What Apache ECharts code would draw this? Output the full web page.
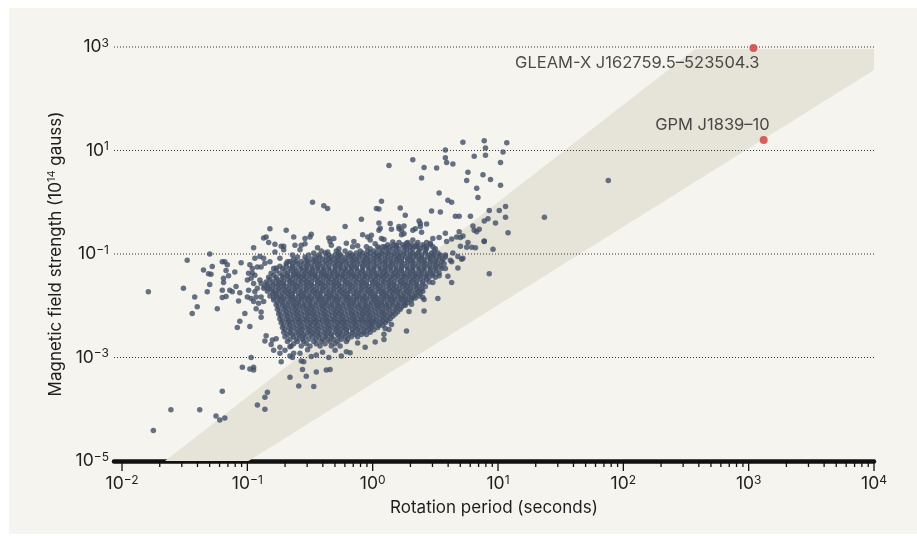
<!DOCTYPE html>
<html lang="en">
<head>
<meta charset="UTF-8">
<title>Magnetic field strength vs rotation period</title>
<script src="https://cdn.jsdelivr.net/npm/echarts@6.0.0/dist/echarts.min.js"></script>
<style>
  html, body { margin: 0; padding: 0; width: 100%; height: 100%; background: #fff; overflow: hidden; }
  #panel { position: absolute; left: 9px; top: 8px; right: 0; bottom: 2px; background: #f5f4ee; }
  #chart { position: absolute; left: 0; top: 0; width: 917px; height: 536px; }
</style>
</head>
<body>
<div id="panel"></div>
<div id="chart"></div>
<script>
// values, as [log10 period (s), log10 field (1e14 G)]
var scatteredLog = [
  // far left and bottom
  [-1.79,-1.73],[-1.48,-1.12],[-1.51,-1.66],[-1.42,-1.83],[-1.40,-2.02],[-1.44,-2.15],
  [-1.30,-1.00],[-1.35,-1.31],[-1.28,-1.24],[-1.31,-1.38],[-1.29,-1.39],[-1.30,-1.59],[-1.32,-1.73],[-1.24,-2.06],
  [-1.20,-1.15],[-1.18,-1.15],[-1.16,-1.21],[-1.17,-1.32],[-1.19,-1.47],[-1.19,-1.55],[-1.20,-1.70],[-1.20,-1.84],[-1.17,-1.82],
  [-1.15,-1.42],[-1.14,-1.70],[-1.12,-1.73],[-1.10,-1.35],[-1.09,-1.63],[-1.07,-1.91],[-1.05,-1.17],[-1.06,-1.75],
  [-1.02,-2.15],[-1.06,-2.30],[-1.08,-2.42],[-0.98,-2.40],[-0.95,-0.88],[-0.85,-2.58],[-0.86,-2.68],
  [-0.97,-3.00],[-1.04,-3.19],[-0.98,-3.22],[-0.95,-3.19],[-0.95,-3.24],[-1.20,-3.65],
  [-1.61,-4.01],[-1.38,-4.01],[-1.25,-4.13],[-1.22,-4.21],[-1.18,-4.17],[-1.75,-4.41],
  [-0.92,-3.92],[-0.86,-3.77],[-0.84,-3.67],[-0.86,-4.00],
  // left lobe of the cloud
  [-0.94,-1.08],[-0.90,-1.05],[-0.87,-1.08],[-0.85,-0.67],[-0.86,-1.18],[-0.98,-1.21],[-0.96,-1.28],[-0.92,-1.25],[-0.89,-1.25],
  [-0.99,-1.37],[-0.96,-1.37],[-0.94,-1.41],[-1.00,-1.50],[-0.97,-1.47],[-0.95,-1.57],[-0.90,-1.50],[-0.89,-1.57],
  [-0.99,-1.70],[-0.94,-1.73],[-0.92,-1.66],[-0.87,-1.66],[-1.00,-1.83],[-0.97,-1.86],[-0.93,-1.83],[-0.89,-1.83],
  [-0.95,-1.92],[-0.91,-1.95],[-0.87,-1.92],[-0.93,-2.06],[-0.89,-2.12],[-0.89,-2.22],
  // under the cloud
  [-0.80,-2.66],[-0.77,-2.64],[-0.74,-2.80],[-0.66,-3.38],[-0.59,-3.55],[-0.56,-3.23],[-0.53,-3.36],[-0.47,-3.56],
  [-0.45,-3.28],[-0.37,-3.24],[-0.34,-3.23],[-0.66,-2.97],[-0.57,-3.07],[-0.49,-2.98],[-0.45,-2.95],[-0.35,-3.00],
  [-0.25,-2.97],[-0.21,-2.89],[-0.18,-2.91],[0.09,-2.65],[0.13,-2.46],[0.15,-2.36],[0.27,-2.49],[0.41,-2.10],
  [0.52,-1.86],[0.63,-1.55],[0.40,-1.84],[-0.81,-2.75],[-0.79,-2.86],[-0.74,-2.92],[-0.70,-2.86],[-0.66,-2.79],
  [-0.73,-3.08],[-0.63,-2.92],[-0.64,-3.00],[-0.58,-2.92],[-0.55,-3.08],[0.10,-2.44],[0.09,-2.55],
  [-0.12,-2.72],[-0.06,-2.80],[0.02,-2.70],[-0.30,-2.86],[-0.40,-2.90],[-0.52,-2.85],
  // right of the cloud
  [0.93,-1.38],[0.48,-1.55],[0.53,-1.42],[0.58,-1.28],[0.29,-2.11],[0.31,-1.97],[0.26,-1.99],[0.41,-1.88],
  [0.96,-0.91],[0.89,-0.76],[0.82,-0.88],[0.79,-0.87],[0.75,-0.87],[0.71,-1.10],[0.76,-0.78],[0.70,-0.85],
  [0.58,-1.02],[0.63,-1.15],[0.68,-1.27],[0.72,-1.08],[0.60,-1.43],[0.62,-1.12],[0.68,-1.05],[0.64,-0.98],
  // upper right
  [0.72,1.16],[0.89,1.19],[1.07,1.15],[0.90,1.05],[1.04,0.97],[0.90,0.91],[0.81,0.89],[0.58,1.01],[0.58,0.86],[0.59,0.77],[0.64,0.74],
  [0.32,0.82],[0.41,0.67],[0.51,0.66],[1.02,0.77],[0.76,0.58],[0.88,0.53],[0.39,0.47],[0.75,0.42],[0.94,0.44],[1.02,0.33],[0.83,0.27],
  [0.53,0.18],[0.84,0.09],[0.60,0.04],[0.63,0.00],[0.47,-0.17],[0.54,-0.19],[0.93,-0.16],[1.01,-0.16],[1.06,-0.08],
  [0.26,-0.25],[0.22,-0.11],[0.66,-0.27],[0.69,-0.27],[0.78,-0.27],[1.06,-0.29],[0.92,-0.32],[0.89,-0.36],[0.98,-0.40],
  [0.43,-0.42],[0.37,-0.36],[0.38,-0.41],[0.38,-0.47],[0.80,-0.46],[1.08,-0.59],[0.69,-0.57],[0.81,-0.54],[0.85,-0.52],[0.83,-0.57],
  [0.25,-0.46],[0.23,-0.54],[0.32,-0.54],[0.34,-0.51],[0.39,-0.58],[0.58,-0.60],[0.48,-0.70],[0.53,-0.68],[0.59,-0.76],
  [0.63,-0.71],[0.67,-0.67],[0.72,-0.65],[0.70,-0.68],[0.89,-0.75],
  [0.27,-0.79],[0.32,-0.73],[0.36,-0.86],[0.43,-0.86],[0.46,-0.79],[1.37,-0.29],[1.88,0.42],
  // above the cloud
  [0.13,0.71],[-0.48,0.00],[-0.39,-0.07],[-0.36,-0.12],[0.07,0.02],[0.03,-0.12],[0.05,-0.13],[-0.09,-0.33],[0.05,-0.40],[0.14,-0.41],
  [-0.82,-0.51],[-0.69,-0.54],[-0.22,-0.47],[0.06,-0.50],[0.05,-0.54],[0.15,-0.52],[0.21,-0.47],[0.21,-0.51],[0.23,-0.63],[0.25,-0.61],
  [-0.63,-0.67],[-0.50,-0.67],[-0.49,-0.62],[-0.54,-0.70],[-0.87,-0.69],[-0.83,-0.78],[-0.78,-0.81],[-0.73,-0.85],[-0.71,-0.85],
  [-0.62,-0.83],[-0.57,-0.83],[-0.54,-0.80],[-0.35,-0.69],[-0.34,-0.76],[-0.31,-0.70],[-0.33,-0.83],[-0.21,-0.79],[-0.15,-0.76],
  [-0.08,-0.63],[-0.04,-0.67],[-0.01,-0.64],[-0.02,-0.73],[0.07,-0.70],[0.09,-0.72],[0.16,-0.77],[0.19,-0.84],[0.27,-0.85],
  [-0.78,-0.96],[-0.71,-0.92],[-0.64,-1.02],[-0.58,-0.92],[-0.74,-1.08],[-0.82,-1.15],[-0.68,-1.15],[-0.77,-1.27],
  [-0.44,-0.88],[-0.36,-0.96],[-0.27,-0.90],[-0.12,-0.84],[0.02,-0.80],[0.10,-0.86]
];

// the dense core, row by row: [log10 field, [log10 periods]]
var coreRows = [
  [-0.78, [0.21,0.28,0.36,0.43]],
  [-0.82, [0.12,0.17,0.24,0.31,0.35,0.40,0.46]],
  [-0.86, [-0.16,-0.05,0.04,0.08,0.14,0.19,0.25,0.30,0.34,0.41,0.48]],
  [-0.90, [-0.02,0.05,0.11,0.16,0.21,0.27,0.32,0.38,0.43,0.50]],
  [-0.94, [-0.41,-0.29,-0.22,-0.10,-0.04,0.01,0.08,0.13,0.19,0.25,0.30,0.37,0.42,0.49]],
  [-0.98, [-0.47,-0.38,-0.27,-0.18,-0.13,-0.08,-0.02,0.03,0.07,0.12,0.17,0.22,0.27,0.32,0.36,0.42,0.47,0.52]],
  [-1.02, [-0.51,-0.43,-0.35,-0.30,-0.26,-0.20,-0.16,-0.10,-0.05,0.01,0.05,0.10,0.15,0.20,0.24,0.30,0.34,0.39,0.45,0.49,0.54]],
  [-1.06, [-0.60,-0.54,-0.46,-0.42,-0.37,-0.33,-0.28,-0.24,-0.19,-0.15,-0.11,-0.06,-0.02,0.03,0.07,0.12,0.17,0.21,0.26,0.30,0.35,0.39,0.44,0.48,0.53,0.58]],
  [-1.10, [-0.63,-0.53,-0.49,-0.45,-0.40,-0.35,-0.31,-0.27,-0.22,-0.17,-0.13,-0.08,-0.04,0.01,0.05,0.10,0.14,0.19,0.23,0.28,0.32,0.37,0.41,0.46,0.51,0.56]],
  [-1.145, [-0.66,-0.61,-0.57,-0.52,-0.47,-0.43,-0.38,-0.34,-0.29,-0.25,-0.21,-0.16,-0.12,-0.07,-0.03,0.01,0.06,0.10,0.15,0.19,0.23,0.28,0.32,0.37,0.41,0.46,0.50,0.55]],
  [-1.19, [-0.69,-0.64,-0.60,-0.55,-0.51,-0.46,-0.42,-0.37,-0.32,-0.28,-0.24,-0.19,-0.15,-0.10,-0.06,-0.02,0.03,0.08,0.12,0.16,0.21,0.25,0.30,0.34,0.39,0.43,0.48,0.52,0.57]],
  [-1.235, [-0.74,-0.69,-0.64,-0.58,-0.53,-0.49,-0.44,-0.40,-0.35,-0.30,-0.26,-0.21,-0.17,-0.13,-0.08,-0.04,0.01,0.05,0.10,0.14,0.18,0.23,0.27,0.32,0.36,0.41,0.45,0.50,0.54]],
  [-1.28, [-0.79,-0.72,-0.66,-0.62,-0.57,-0.53,-0.48,-0.44,-0.39,-0.35,-0.30,-0.26,-0.22,-0.17,-0.13,-0.08,-0.03,0.01,0.06,0.10,0.14,0.19,0.23,0.28,0.32,0.37,0.41,0.46,0.50,0.55]],
  [-1.325, [-0.77,-0.70,-0.65,-0.61,-0.56,-0.52,-0.48,-0.43,-0.39,-0.34,-0.30,-0.25,-0.21,-0.17,-0.12,-0.08,-0.03,0.01,0.06,0.10,0.15,0.19,0.23,0.28,0.32,0.37,0.41,0.46,0.51]],
  [-1.37, [-0.81,-0.74,-0.68,-0.63,-0.59,-0.54,-0.50,-0.46,-0.41,-0.37,-0.32,-0.28,-0.23,-0.19,-0.15,-0.10,-0.06,-0.01,0.03,0.08,0.12,0.17,0.21,0.25,0.30,0.34,0.39,0.44,0.48,0.53]],
  [-1.41, [-0.79,-0.72,-0.68,-0.63,-0.59,-0.55,-0.50,-0.46,-0.41,-0.37,-0.33,-0.28,-0.24,-0.19,-0.15,-0.11,-0.06,-0.02,0.03,0.07,0.11,0.16,0.20,0.25,0.29,0.34,0.38,0.43,0.48]],
  [-1.45, [-0.83,-0.77,-0.71,-0.66,-0.61,-0.57,-0.53,-0.48,-0.44,-0.39,-0.35,-0.30,-0.26,-0.22,-0.17,-0.13,-0.08,-0.04,0.01,0.05,0.09,0.14,0.18,0.23,0.27,0.32,0.36,0.41,0.45,0.50]],
  [-1.495, [-0.82,-0.77,-0.73,-0.68,-0.64,-0.59,-0.55,-0.51,-0.46,-0.42,-0.37,-0.33,-0.29,-0.24,-0.20,-0.15,-0.11,-0.07,-0.02,0.02,0.07,0.11,0.15,0.20,0.24,0.29,0.33,0.38,0.43]],
  [-1.54, [-0.85,-0.80,-0.75,-0.71,-0.66,-0.62,-0.57,-0.53,-0.49,-0.44,-0.40,-0.35,-0.31,-0.27,-0.22,-0.18,-0.13,-0.09,-0.05,0.00,0.04,0.09,0.13,0.17,0.22,0.26,0.31,0.35,0.40,0.45]],
  [-1.585, [-0.84,-0.79,-0.75,-0.71,-0.66,-0.62,-0.58,-0.53,-0.49,-0.44,-0.40,-0.36,-0.31,-0.27,-0.22,-0.18,-0.14,-0.09,-0.05,0.00,0.04,0.08,0.13,0.17,0.22,0.26,0.30,0.35,0.40]],
  [-1.63, [-0.86,-0.82,-0.77,-0.73,-0.69,-0.64,-0.60,-0.55,-0.51,-0.47,-0.42,-0.38,-0.33,-0.29,-0.25,-0.20,-0.16,-0.11,-0.07,-0.03,0.02,0.06,0.11,0.15,0.19,0.24,0.28,0.33,0.37,0.42]],
  [-1.675, [-0.83,-0.80,-0.75,-0.71,-0.67,-0.62,-0.58,-0.53,-0.49,-0.45,-0.40,-0.36,-0.31,-0.27,-0.23,-0.18,-0.14,-0.09,-0.05,-0.01,0.04,0.08,0.13,0.17,0.21,0.26,0.30,0.35,0.39]],
  [-1.72, [-0.84,-0.79,-0.75,-0.70,-0.66,-0.62,-0.57,-0.53,-0.48,-0.44,-0.40,-0.35,-0.31,-0.26,-0.22,-0.18,-0.13,-0.09,-0.04,0.00,0.05,0.09,0.14,0.18,0.22,0.27,0.31,0.36,0.40]],
  [-1.765, [-0.80,-0.77,-0.72,-0.68,-0.64,-0.59,-0.55,-0.50,-0.46,-0.42,-0.37,-0.33,-0.28,-0.24,-0.20,-0.15,-0.11,-0.06,-0.02,0.02,0.07,0.11,0.16,0.20,0.25,0.29,0.34,0.38]],
  [-1.81, [-0.82,-0.77,-0.73,-0.68,-0.64,-0.59,-0.55,-0.51,-0.46,-0.42,-0.37,-0.33,-0.29,-0.24,-0.20,-0.15,-0.11,-0.07,-0.02,0.02,0.07,0.11,0.15,0.20,0.24,0.29,0.33,0.37]],
  [-1.85, [-0.79,-0.75,-0.71,-0.66,-0.62,-0.57,-0.53,-0.49,-0.44,-0.40,-0.35,-0.31,-0.27,-0.22,-0.18,-0.13,-0.09,-0.05,0.00,0.04,0.09,0.13,0.17,0.22,0.26,0.31,0.34]],
  [-1.89, [-0.79,-0.74,-0.70,-0.65,-0.61,-0.57,-0.52,-0.48,-0.43,-0.39,-0.35,-0.30,-0.26,-0.21,-0.17,-0.13,-0.08,-0.04,0.01,0.05,0.09,0.14,0.18,0.23,0.27,0.31]],
  [-1.935, [-0.76,-0.72,-0.67,-0.63,-0.59,-0.54,-0.50,-0.45,-0.41,-0.37,-0.32,-0.28,-0.23,-0.19,-0.15,-0.10,-0.06,-0.01,0.03,0.07,0.12,0.16,0.21,0.25,0.28]],
  [-1.98, [-0.77,-0.72,-0.68,-0.63,-0.59,-0.55,-0.50,-0.46,-0.41,-0.37,-0.33,-0.28,-0.24,-0.19,-0.15,-0.11,-0.06,-0.02,0.03,0.07,0.11,0.16,0.20,0.25]],
  [-2.025, [-0.75,-0.70,-0.65,-0.61,-0.56,-0.52,-0.48,-0.43,-0.39,-0.34,-0.30,-0.26,-0.21,-0.17,-0.12,-0.08,-0.04,0.01,0.05,0.10,0.14,0.19,0.23]],
  [-2.07, [-0.76,-0.71,-0.67,-0.62,-0.58,-0.53,-0.49,-0.45,-0.40,-0.36,-0.31,-0.27,-0.23,-0.18,-0.14,-0.09,-0.05,-0.01,0.04,0.08,0.13,0.18,0.22]],
  [-2.115, [-0.74,-0.69,-0.64,-0.60,-0.55,-0.51,-0.47,-0.42,-0.38,-0.33,-0.29,-0.25,-0.20,-0.16,-0.11,-0.07,-0.03,0.02,0.07,0.11,0.16,0.20]],
  [-2.16, [-0.75,-0.70,-0.66,-0.61,-0.57,-0.52,-0.48,-0.44,-0.39,-0.35,-0.30,-0.26,-0.22,-0.17,-0.13,-0.08,-0.04,0.00,0.05,0.09,0.14,0.18]],
  [-2.205, [-0.73,-0.68,-0.63,-0.59,-0.54,-0.50,-0.46,-0.41,-0.37,-0.32,-0.28,-0.24,-0.19,-0.15,-0.10,-0.06,-0.02,0.03,0.08,0.12,0.16]],
  [-2.25, [-0.74,-0.69,-0.65,-0.60,-0.56,-0.52,-0.47,-0.43,-0.38,-0.34,-0.30,-0.25,-0.21,-0.16,-0.12,-0.08,-0.03,0.01,0.06,0.10,0.14]],
  [-2.29, [-0.72,-0.67,-0.62,-0.58,-0.53,-0.49,-0.45,-0.40,-0.36,-0.31,-0.27,-0.23,-0.18,-0.14,-0.09,-0.05,-0.01,0.03,0.08,0.12]],
  [-2.33, [-0.73,-0.68,-0.64,-0.59,-0.55,-0.50,-0.46,-0.42,-0.37,-0.33,-0.28,-0.24,-0.20,-0.15,-0.11,-0.06,-0.02,0.02,0.06,0.10]],
  [-2.375, [-0.71,-0.66,-0.61,-0.57,-0.52,-0.48,-0.44,-0.39,-0.35,-0.30,-0.26,-0.22,-0.17,-0.13,-0.08,-0.03,0.00,0.05,0.08]],
  [-2.42, [-0.72,-0.67,-0.63,-0.58,-0.54,-0.50,-0.45,-0.41,-0.36,-0.32,-0.28,-0.23,-0.19,-0.14,-0.10,-0.05,-0.01,0.04]],
  [-2.465, [-0.70,-0.65,-0.60,-0.56,-0.51,-0.47,-0.43,-0.38,-0.34,-0.29,-0.25,-0.21,-0.16,-0.12,-0.07,-0.03,0.01]],
  [-2.51, [-0.71,-0.66,-0.61,-0.57,-0.52,-0.48,-0.44,-0.39,-0.35,-0.30,-0.26,-0.21,-0.16,-0.11,-0.07,-0.02]],
  [-2.555, [-0.68,-0.64,-0.59,-0.55,-0.50,-0.46,-0.42,-0.37,-0.33,-0.28,-0.24,-0.19,-0.14,-0.09,-0.05]],
  [-2.60, [-0.70,-0.63,-0.58,-0.54,-0.48,-0.43,-0.38,-0.33,-0.27,-0.22,-0.17,-0.12]],
  [-2.645, [-0.66,-0.61,-0.56,-0.51,-0.45,-0.40,-0.36,-0.31,-0.25,-0.20]],
  [-2.69, [-0.68,-0.60,-0.55,-0.47,-0.41,-0.34,-0.28,-0.21]],
  [-2.735, [-0.63,-0.53,-0.45,-0.38,-0.30]],
  [-2.78, [-0.65,-0.57,-0.50,-0.42,-0.33,-0.26]]
];

// the two long-period sources (period s, field 1e14 G)
var sourceNames = ['GLEAM-X J162759.5\u2013523504.3', 'GPM J1839\u201310'];
var sourcePeriods = [1091, 1318];
var sourceFields = [955, 16];

// shaded region corners (period s, field 1e14 G)
var bandCorners = [[0.022, 1e-5], [374, 912], [10000, 912], [10000, 360], [0.102, 1e-5]];

var xMin = 0.00863, xMax = 10000, yMin = 1e-5, yMax = 1000;
var yGridValues = [1e-3, 1e-1, 1e1, 1e3];
var decades = [0.01, 0.1, 1, 10, 100, 1000];
var minorSteps = [2, 3, 4, 5, 6, 7, 8, 9];

var FONT = 'Inter, "Noto Sans", sans-serif';
var INK = '#1e1e1e';

var pulsars = scatteredLog.map(function (p) { return [Math.pow(10, p[0]), Math.pow(10, p[1])]; });
coreRows.forEach(function (row) {
  row[1].forEach(function (lp) { pulsars.push([Math.pow(10, lp), Math.pow(10, row[0])]); });
});

var tickData = [];
decades.concat([10000]).forEach(function (d) { tickData.push([d, yMin, 10]); });
decades.forEach(function (d) {
  minorSteps.forEach(function (m) { tickData.push([d * m, yMin, 6]); });
});

function powerLabel(v, oddOnly) {
  var e = Math.log10(v), r = Math.round(e);
  if (Math.abs(e - r) > 1e-6) return '';
  if (oddOnly && r % 2 === 0) return '';
  return '{b|10}{s|' + (r < 0 ? '\u2212' + (-r) : r) + '}';
}

var labelRich = {
  b: { fontSize: 17.5, lineHeight: 20, color: INK, fontFamily: FONT },
  s: { fontSize: 12, lineHeight: 11, verticalAlign: 'top', color: INK, fontFamily: FONT }
};

var chart = echarts.init(document.getElementById('chart'));
chart.setOption({
  animation: false,
  backgroundColor: 'transparent',
  grid: { left: 114, right: 43, top: 47, bottom: 75 },
  xAxis: {
    type: 'log',
    min: xMin,
    max: xMax,
    name: 'Rotation period (seconds)',
    nameLocation: 'middle',
    nameGap: 38,
    nameTextStyle: { fontSize: 17, color: INK, fontFamily: FONT },
    axisLine: { show: true, lineStyle: { color: '#111', width: 4.5 } },
    axisTick: { show: false },
    splitLine: { show: false },
    axisLabel: {
      margin: 13,
      showMinLabel: true,
      showMaxLabel: true,
      formatter: function (v) { return powerLabel(v, false); },
      rich: labelRich
    }
  },
  yAxis: {
    type: 'log',
    min: yMin,
    max: yMax,
    name: '{n|Magnetic field strength (10}{s|14}{n| gauss)}',
    nameLocation: 'middle',
    nameGap: 48,
    nameTextStyle: {
      rich: {
        n: { fontSize: 17, lineHeight: 20, color: INK, fontFamily: FONT },
        s: { fontSize: 11, lineHeight: 11, verticalAlign: 'top', color: INK, fontFamily: FONT }
      }
    },
    axisLine: { show: false },
    axisTick: { show: false },
    splitLine: { show: false },
    axisLabel: {
      margin: 5,
      showMinLabel: true,
      showMaxLabel: true,
      formatter: function (v) { return powerLabel(v, true); },
      rich: labelRich
    }
  },
  series: [
    {
      type: 'custom',
      z: 1,
      silent: true,
      data: [[1, 1]],
      renderItem: function (params, api) {
        var pts = bandCorners.map(function (c) { return api.coord(c); });
        var children = [{ type: 'polygon', shape: { points: pts }, style: { fill: '#e6e3d8' } }];
        yGridValues.forEach(function (v) {
          var a = api.coord([xMin, v]), b = api.coord([xMax, v]);
          children.push({
            type: 'line',
            shape: { x1: a[0], y1: a[1], x2: b[0], y2: b[1] },
            style: { stroke: '#333', lineWidth: 1, lineDash: [1, 2] }
          });
        });
        return { type: 'group', children: children };
      }
    },
    {
      type: 'scatter',
      z: 3,
      silent: true,
      symbolSize: 5.5,
      itemStyle: { color: '#414f67' },
      data: pulsars
    },
    {
      type: 'custom',
      z: 4,
      silent: true,
      data: tickData,
      renderItem: function (params, api) {
        var p = api.coord([api.value(0), api.value(1)]);
        var len = api.value(2);
        return {
          type: 'line',
          shape: { x1: p[0], y1: p[1], x2: p[0], y2: p[1] + len },
          style: { stroke: '#111', lineWidth: 1.3 }
        };
      }
    },
    {
      type: 'scatter',
      z: 5,
      silent: true,
      symbolSize: 8,
      itemStyle: { color: '#cf3a3c' },
      data: [
        { value: [sourcePeriods[0], sourceFields[0]], label: { position: [10, 19] } },
        { value: [sourcePeriods[1], sourceFields[1]], label: { position: [10, -11] } }
      ],
      label: {
        show: true,
        align: 'right',
        verticalAlign: 'middle',
        fontSize: 16.5,
        color: INK,
        fontFamily: FONT,
        formatter: function (p) { return sourceNames[p.dataIndex]; }
      }
    }
  ]
});
</script>
</body>
</html>
